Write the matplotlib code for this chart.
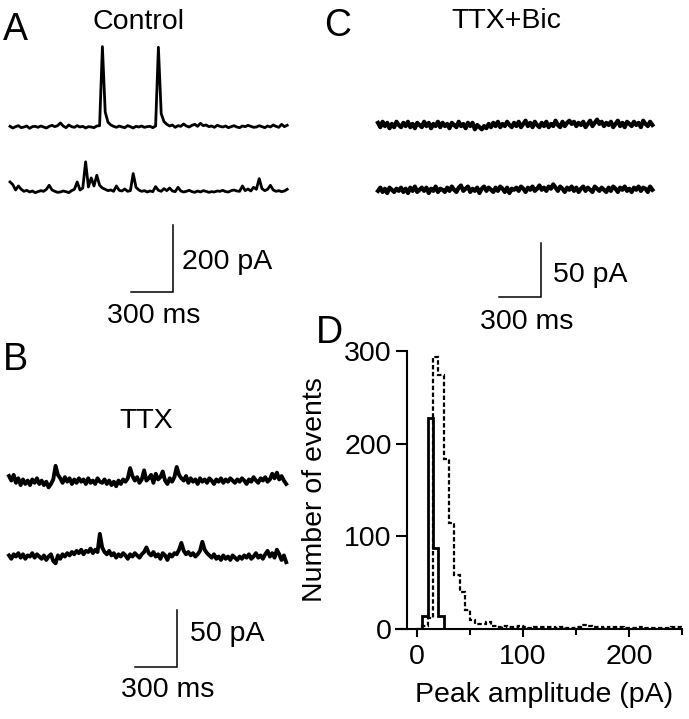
import numpy as np
import matplotlib
matplotlib.use("Agg")
import matplotlib.pyplot as plt

plt.rcParams['font.family'] = ['Liberation Sans', 'DejaVu Sans']

# --- recorded traces (pA), sampled evenly over the sweep ---
ctrl_top = [2, -3, 1, 4, -2, 0, 3, -4, 1, 2,
            -1, 3, 0, -3, 2, 5, 1, 4, 12, 3,
            -2, 6, 1, -1, 4, 0, 2, -3, 1, 0,
            -2, 3, 4, 240, 45, 14, 6, 2, -1, 3,
            0, -2, 4, 1, -3, 2, 0, 3, -1, 1,
            2, -2, 3, 238, 40, 16, 8, 3, 6, -1,
            4, 2, 9, 3, 0, 5, 8, 2, 11, 4,
            6, 1, 3, -1, 5, 2, 0, 3, -2, 1,
            4, 0, -2, 3, 1, 5, 2, -1, 0, 4,
            1, -2, 3, 0, 6, 2, -1, 8, 1, 5]
ctrl_bot = [30, 22, 6, 18, 8, 2, 5, 0, 3, -2,
            1, 4, 2, 8, 20, 6, 2, -1, 0, 3,
            1, -2, 4, 8, 30, 6, 12, 90, 15, 42,
            18, 50, 20, 12, 8, 4, 6, 2, 18, 5,
            3, 9, 2, 4, 55, 14, 6, 2, 4, 0,
            3, 1, 16, 5, 2, 10, 4, 12, 3, 1,
            14, 3, 0, 2, 5, 1, -1, 3, 0, 4,
            2, -1, 1, 0, 3, 2, 5, 1, 0, 4,
            6, 3, 2, 18, 4, 9, 3, 14, 8, 40,
            10, 4, 8, 20, 6, 2, 4, 1, 3, 8]
ttx_top = [5, 1, 6, -1, 3, -3, 2, -2, 1, -3,
           2, -1, 3, -2, 1, -3, 0, -5, -2, 2,
           14, 6, 3, -1, 4, 0, 3, -2, 2, -1,
           3, 0, 2, -2, 3, -1, 1, -2, 3, 0,
           -1, 2, -2, 1, -3, 0, -4, 1, -2, 2,
           0, 3, 12, 5, 1, 4, -1, 2, 10, 1,
           3, 6, -1, 7, 2, 4, 9, 1, -2, 3,
           0, 4, 13, 6, 3, 1, 5, -1, 3, 0,
           2, -2, 3, 0, 2, -1, 3, 1, -2, 2,
           0, 3, -1, 2, 0, 3, 1, -1, 2, 0,
           3, 1, -2, 2, 0, 4, 1, -1, 3, 1,
           4, 0, 2, 7, 3, 8, 2, 5, 1, -2]
ttx_bot = [1, -2, 2, 0, 3, -1, 2, -2, 1, 0,
           3, -1, 2, 0, -2, 1, -3, 0, 2, -4,
           -6, 1, -2, 2, 0, 3, 1, 4, 2, 5,
           3, 6, 2, 5, 4, 7, 3, 6, 4, 20,
           8, 4, 2, 5, 1, 3, -1, 2, 0, 3,
           1, -2, 2, 0, 3, 1, -1, 2, 4, 8,
           3, 1, 4, 0, 2, -2, 3, 1, -3, 2,
           0, 3, 2, 6, 12, 5, 2, 4, 1, 3,
           0, 2, 5, 13, 6, 3, 1, -1, 2, -2,
           0, -3, 1, -2, 0, -3, 1, -1, -3, 0,
           -2, 1, -1, 2, -2, 0, 3, -1, 1, -2,
           2, 5, 0, 3, -1, 6, 2, -3, 1, -5]
bic_top = [2, -2, 3, -1, 2, -3, 1, -2, 3, 0,
           -2, 2, -1, 3, -2, 1, -3, 2, 0, -2,
           3, -1, 2, -3, 1, -1, 3, -2, 2, -1,
           1, -3, 2, 0, -2, 3, -1, 1, -3, 2,
           -1, 2, -4, 0, -2, -4, -1, -3, 1, -2,
           2, -1, 3, -2, 1, -1, 3, 0, -2, 2,
           -1, 3, -2, 1, 4, -1, 2, -2, 3, 0,
           -2, 2, -1, 3, -2, 1, -1, 4, 0, -2,
           3, -1, 2, 4, 1, 3, -1, 2, 0, 3,
           -2, 1, 4, -1, 2, 5, 1, 3, -1, 2,
           0, 3, -2, 1, 4, -1, 2, -2, 3, 1,
           -1, 3, 0, 2, -2, 4, 1, -1, 3, 0]
bic_bot = [-1, 2, -2, 1, -3, 2, 0, -2, 1, -1,
           2, -2, 1, -3, 2, -1, 3, -2, 0, 2,
           -1, 2, -3, 1, -1, 3, -2, 1, 0, -2,
           2, -1, 3, 0, -2, 2, 4, -1, 1, 3,
           -2, 1, -1, 2, -3, 1, 3, -1, 2, 0,
           -2, 2, -1, 3, 1, -2, 2, -3, 1, 0,
           2, -1, 3, 1, -2, 2, 0, 3, -1, 1,
           4, 0, 2, -1, 3, 1, 5, 2, -1, 3,
           1, -2, 2, 0, 3, -1, 2, -2, 1, 3,
           -1, 2, 0, -2, 3, 1, -1, 2, 0, -2,
           2, -1, 3, 1, -2, 2, 0, 3, -1, 1,
           -2, 2, 0, 3, -1, 2, 1, -2, 3, 0]
sweep_ms = 1980

# --- amplitude histogram (5 pA bins) ---
amp_edges = np.arange(0, 255, 5)
counts_solid = [0, 14, 228, 88, 14, 0]
counts_dashed = [0, 4, 12, 293, 274, 183, 115, 59, 40, 21,
                 10, 6, 6, 8, 4, 3, 4, 3, 2, 4,
                 2, 1, 2, 3, 2, 2, 1, 2, 1, 1,
                 2, 5, 4, 2, 2, 1, 3, 3, 2, 1,
                 1, 1, 2, 1, 1, 1, 1, 1, 2, 3]

W, H = 689, 719
fig = plt.figure(figsize=(W / 100, H / 100), dpi=100)
FS = 20.5


def trace_axes(box, t0_px, base_px, ms_px, pa_px):
    l, t, w, h = box
    ax = fig.add_axes([l / W, 1 - (t + h) / H, w / W, h / H])
    ax.set_xlim((l - t0_px) * ms_px, (l + w - t0_px) * ms_px)
    ax.set_ylim((base_px - (t + h)) * pa_px, (base_px - t) * pa_px)
    ax.axis('off')
    return ax


def scale_bar(ax, t_corner, i_corner, ms, pa):
    ax.plot([t_corner - ms, t_corner, t_corner], [i_corner, i_corner, i_corner + pa],
            color='black', lw=1.1, solid_joinstyle='miter')


def ftext(x, y, s, **kw):
    kw.setdefault('fontsize', FS)
    fig.text(x / W, 1 - y / H, s, **kw)


ms_px = 300 / 42

# A: control
axA = trace_axes((0, 40, 300, 300), 10, 127, ms_px, 200 / 67)
t = np.linspace(0, sweep_ms, len(ctrl_top))
axA.plot(t, ctrl_top, color='black', lw=2.0)
axA.plot(t, np.array(ctrl_bot) - 194, color='black', lw=2.0)
scale_bar(axA, (173 - 10) * ms_px, (127 - 292) * 200 / 67, 300, 200)
ftext(139, 22, 'Control', ha='center', va='center')
ftext(182, 262, '200 pA', ha='left', va='center')
ftext(154, 316, '300 ms', ha='center', va='center')

# B: TTX
axB = trace_axes((0, 380, 300, 339), 9, 481.7, ms_px, 50 / 56.7)
t = np.linspace(0, sweep_ms, len(ttx_top))
axB.plot(t, ttx_top, color='black', lw=2.8)
axB.plot(t, np.array(ttx_bot) - 66, color='black', lw=2.8)
scale_bar(axB, (177 - 9) * ms_px, (481.7 - 666.7) * 50 / 56.7, 300, 50)
ftext(146, 421, 'TTX', ha='center', va='center')
ftext(190, 634, '50 pA', ha='left', va='center')
ftext(168, 690, '300 ms', ha='center', va='center')

# C: TTX+Bic
axC = trace_axes((340, 40, 349, 300), 378, 125, ms_px, 50 / 54)
t = np.linspace(0, 1960, len(bic_top))
axC.plot(t, bic_top, color='black', lw=3.0)
axC.plot(t, np.array(bic_bot) - 60, color='black', lw=3.0)
scale_bar(axC, (541 - 378) * ms_px, (125 - 297) * 50 / 54, 300, 50)
ftext(506, 21, 'TTX+Bic', ha='center', va='center')
ftext(553, 275, '50 pA', ha='left', va='center')
ftext(527, 322, '300 ms', ha='center', va='center')

# panel letters
for x, y, s in [(3, 30, 'A'), (3, 360, 'B'), (324, 26, 'C'), (316, 333, 'D')]:
    ftext(x, y, s, fontsize=27, ha='left', va='center')

# D: histogram
axD = fig.add_axes([396 / W, 1 - 629.3 / H, 286 / W, 278.6 / H])
axD.stairs(counts_dashed, amp_edges, color='black', lw=1.6, linestyle=(0, (2.0, 1.1)))
axD.stairs(counts_solid, amp_edges[:len(counts_solid) + 1], color='black', lw=2.0)
axD.set_xlim(-20, 250)
axD.set_ylim(0, 300)
for s in ['top', 'right']:
    axD.spines[s].set_visible(False)
axD.spines['left'].set_position(('data', -10))
for s in ['left', 'bottom']:
    axD.spines[s].set_linewidth(1.5)
axD.set_xticks([0, 100, 200])
axD.set_xticks([50, 150, 250], minor=True)
axD.set_yticks([0, 100, 200, 300])
axD.tick_params(axis='both', which='both', direction='out', width=1.5, labelsize=FS)
axD.tick_params(axis='y', length=7.7, pad=3)
axD.tick_params(axis='x', which='major', length=5.8, pad=5)
axD.tick_params(axis='x', which='minor', length=4)
axD.set_xlabel('Peak amplitude (pA)', fontsize=FS)
axD.set_ylabel('Number of events', fontsize=FS)
axD.xaxis.set_label_coords(0.516, -0.19)
axD.yaxis.set_label_coords(-0.238, 0.5)

fig.savefig('out.png', dpi=100)
